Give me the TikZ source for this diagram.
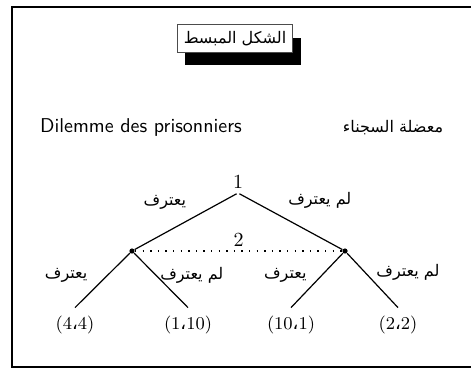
\documentclass[tikz,border=0pt]{standalone}
\usepackage{fontspec}
\newfontfamily\arabicfont[Script=Arabic]{DejaVu Sans}
\TeXXeTstate=1
\usetikzlibrary{shadows,positioning}

% Arabic text, right to left
\newcommand{\artxt}[1]{{\arabicfont\beginR #1\endR}}
\newcommand{\acomma}{{\arabicfont ،}}

\begin{document}
\begin{tikzpicture}[x=0.5pt,y=-0.5pt,
  move/.style={font=\arabicfont\footnotesize,inner sep=2pt},
  dec/.style={circle,fill=black,inner sep=0pt,minimum size=2.6pt},
  pay/.style={font=\small,inner sep=4pt},
  branch/.style={line width=0.6pt},
  infoset/.style={line width=0.7pt,dash pattern=on 0.7pt off 3.1pt}
]
\useasboundingbox (0,0) rectangle (471,369);
\draw[line width=1.1pt] (12,7) rectangle (500,367);

% title box
\node[draw=black!70,fill=white,line width=0.5pt,minimum width=53pt,minimum height=13.5pt,
  font=\footnotesize,
  drop shadow={shadow xshift=4pt,shadow yshift=-6.5pt,fill=black,opacity=1}]
  (title) at (235,38.5) {\artxt{الشكل المبسط}};

\node[font=\sffamily] (namefr) at (141,128) {Dilemme des prisonniers};
\node[font=\arabicfont\footnotesize] (namear) at (393,128) {\artxt{معضلة السجناء}};

% tree
\node[inner sep=0pt,label={[inner sep=1.5pt]above:1}] (root) at (238,193) {};
\node[dec] (p2a) at (132,251) {};
\node[dec] (p2b) at (345,251) {};
\node[pay] (o1) at (75,325) {(4\acomma4)};
\node[pay] (o2) at (188,325) {(1\acomma10)};
\node[pay] (o3) at (291,325) {(10\acomma1)};
\node[pay] (o4) at (398,325) {(2\acomma2)};

\draw[branch] (root) -- node[move,pos=0.45,above left=2.5pt and 0pt]{\artxt{يعترف}} (p2a);
\draw[branch] (root) -- node[move,pos=0.43,above right=2.5pt and 0pt]{\artxt{لم يعترف}} (p2b);
\draw[infoset] (p2a) -- node[above,inner sep=2pt]{2} (p2b);

\draw[branch] (p2a) -- node[move,pos=0.4,left=8pt]{\artxt{يعترف}} (o1.north);
\draw[branch] (p2a) -- node[move,pos=0.4,right=0pt]{\artxt{لم يعترف}} (o2.north);
\draw[branch] (p2b) -- node[move,pos=0.4,left=5.5pt]{\artxt{يعترف}} (o3.north);
\draw[branch] (p2b) -- node[move,pos=0.35,right=3.5pt]{\artxt{لم يعترف}} (o4.north);
\end{tikzpicture}
\end{document}
